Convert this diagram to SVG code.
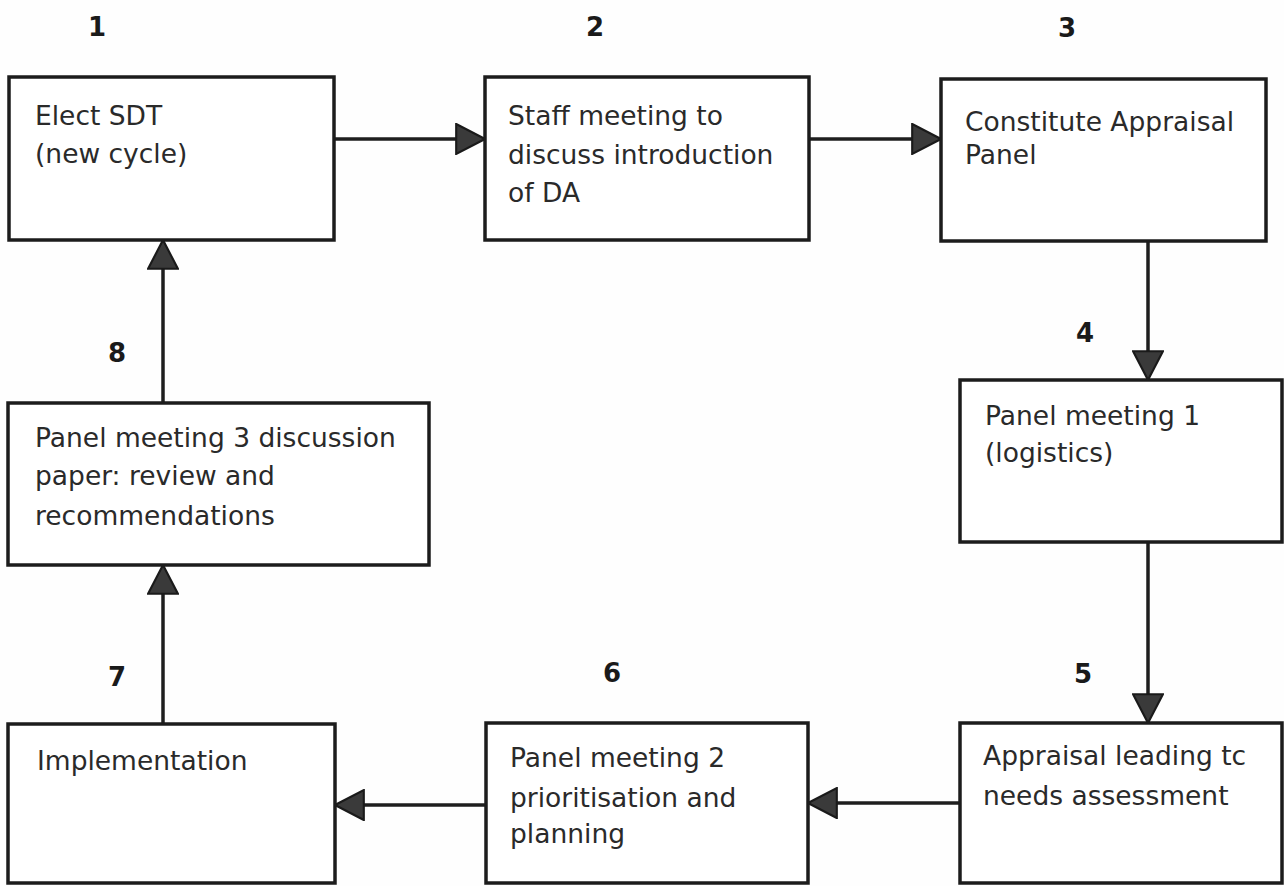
<svg xmlns="http://www.w3.org/2000/svg" width="1284" height="886" viewBox="0 0 1284 886">
<style>
.box{fill:#fff;stroke:#1c1c1c;stroke-width:3.5}
.t{font-family:"DejaVu Sans","Liberation Sans",sans-serif;font-size:26.5px;fill:#2a2a2a}
.n{font-family:"DejaVu Sans","Liberation Sans",sans-serif;font-size:26px;font-weight:bold;fill:#1a1a1a;text-anchor:middle}
.c{fill:none;stroke:#1e1e1e;stroke-width:3.5}
</style>
<defs>
<marker id="ah" markerUnits="userSpaceOnUse" markerWidth="32" markerHeight="32" viewBox="0 0 30 30" refX="28" refY="15" orient="auto">
<path d="M1,1 L28,15 L1,29 Z" fill="#3a3a3a" stroke="#1a1a1a" stroke-width="2"/>
</marker>
</defs>
<rect width="1284" height="886" fill="#fefefe"/>
<g id="connectors">
<line class="c" x1="334" y1="139" x2="485" y2="139" marker-end="url(#ah)"/>
<line class="c" x1="809" y1="139" x2="941" y2="139" marker-end="url(#ah)"/>
<line class="c" x1="1148" y1="241" x2="1148" y2="380" marker-end="url(#ah)"/>
<line class="c" x1="1148" y1="542" x2="1148" y2="723" marker-end="url(#ah)"/>
<line class="c" x1="960" y1="803" x2="808" y2="803" marker-end="url(#ah)"/>
<line class="c" x1="486" y1="805" x2="335" y2="805" marker-end="url(#ah)"/>
<line class="c" x1="163" y1="724" x2="163" y2="565" marker-end="url(#ah)"/>
<line class="c" x1="163" y1="403" x2="163" y2="240" marker-end="url(#ah)"/>
</g>
<g id="labels">
<text class="n" x="97" y="36">1</text>
<text class="n" x="595" y="36">2</text>
<text class="n" x="1067" y="37">3</text>
<text class="n" x="1085" y="342">4</text>
<text class="n" x="1083" y="683">5</text>
<text class="n" x="612" y="682">6</text>
<text class="n" x="117" y="686">7</text>
<text class="n" x="117" y="362">8</text>
</g>
<g id="node1">
<rect class="box" x="9" y="77" width="325" height="163"/>
<text class="t" x="35" y="125">Elect SDT</text>
<text class="t" x="35" y="163">(new cycle)</text>
</g>
<g id="node2">
<rect class="box" x="485" y="77" width="324" height="163"/>
<text class="t" x="508" y="125">Staff meeting to</text>
<text class="t" x="508" y="164">discuss introduction</text>
<text class="t" x="508" y="202">of DA</text>
</g>
<g id="node3">
<rect class="box" x="941" y="79" width="325" height="162"/>
<text class="t" x="965" y="131">Constitute Appraisal</text>
<text class="t" x="965" y="164">Panel</text>
</g>
<g id="node4">
<rect class="box" x="960" y="380" width="322" height="162"/>
<text class="t" x="985" y="425">Panel meeting 1</text>
<text class="t" x="985" y="462">(logistics)</text>
</g>
<g id="node5">
<rect class="box" x="960" y="723" width="322" height="160"/>
<text class="t" x="983" y="765">Appraisal leading tc</text>
<text class="t" x="983" y="805">needs assessment</text>
</g>
<g id="node6">
<rect class="box" x="486" y="723" width="322" height="160"/>
<text class="t" x="510" y="767">Panel meeting 2</text>
<text class="t" x="510" y="807">prioritisation and</text>
<text class="t" x="510" y="843">planning</text>
</g>
<g id="node7">
<rect class="box" x="8" y="724" width="327" height="159"/>
<text class="t" x="37" y="770">Implementation</text>
</g>
<g id="node8">
<rect class="box" x="8" y="403" width="421" height="162"/>
<text class="t" x="35" y="447">Panel meeting 3 discussion</text>
<text class="t" x="35" y="485">paper: review and</text>
<text class="t" x="35" y="525">recommendations</text>
</g>
</svg>
